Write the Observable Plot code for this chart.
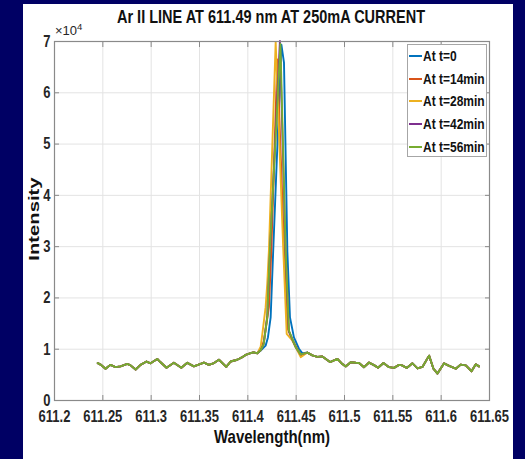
<!DOCTYPE html>
<html>
<head>
<meta charset="utf-8">
<script src="https://cdn.jsdelivr.net/npm/d3@7"></script>
<script src="https://cdn.jsdelivr.net/npm/@observablehq/plot@0.6"></script>
<style>
  html, body { margin: 0; padding: 0; }
  body { width: 525px; height: 459px; background: #000064; position: relative; overflow: hidden; font-family: "Liberation Sans", Arial, sans-serif; }
  #panel { position: absolute; left: 23px; top: 4px; width: 490px; height: 455px; background: #ffffff; }
  #chart { position: absolute; left: 0; top: 0; }
  #title { position: absolute; left: 0; width: 542px; top: 7px; line-height: 20px; text-align: center; font-weight: bold; font-size: 14.5px; color: #111; transform: scaleY(1.28); transform-origin: 50% 50%; }
  #exp { position: absolute; left: 55px; top: 21px; font-size: 13px; color: #262626; }
  #exp sup { font-size: 9.5px; }
  #ylabel { position: absolute; left: 33px; top: 219px; transform: translate(-50%, -50%) rotate(-90deg) scaleX(1.35); font-weight: bold; font-size: 15px; color: #111; white-space: nowrap; }
  #legend { position: absolute; left: 407px; top: 44px; width: 80px; height: 113px; background: #fff; border: 1px solid #a6a6a6; box-sizing: border-box; padding-top: 0px; }
  .item { display: flex; align-items: center; height: 22.6px; font-weight: bold; font-size: 12px; color: #111; white-space: nowrap; }
  .item span.tx { display: inline-block; transform: scaleY(1.25); }
  .swatch { width: 13px; height: 2px; margin-left: 1px; margin-right: 1px; flex: none; }
  g[aria-label="x-axis label"] text { font-size: 15px; fill: #111; }
</style>
</head>
<body>
<div id="panel"></div>
<div id="chart"></div>
<div id="title">Ar II LINE AT 611.49 nm AT 250mA CURRENT</div>
<div id="exp">×10<sup>4</sup></div>
<div id="ylabel">Intensity</div>
<div id="legend"></div>
<script>
// ---- data ----
const series = ["At t=0", "At t=14min", "At t=28min", "At t=42min", "At t=56min"];
const colors = ["#0072BD", "#D95319", "#EDB120", "#7E2F8E", "#77AC30"];

// shared baseline, left of the line
const baseLeftNm = [611.2448, 611.2476, 611.2528, 611.2580, 611.2631, 611.2683, 611.2753, 611.2787, 611.2839, 611.2890,
  611.2952, 611.2994, 611.3063, 611.3097, 611.3159, 611.3235, 611.3312, 611.3374, 611.3442, 611.3546,
  611.3597, 611.3650, 611.3701, 611.3777, 611.3822, 611.3891, 611.3943, 611.3977, 611.4029, 611.4063, 611.4098];
const baseLeftI = [7300, 7000, 6200, 6950, 6500, 6650, 7150, 6850, 6050, 6950,
  7600, 7250, 8100, 7450, 6400, 7350, 6400, 7350, 6650, 7400,
  6950, 7300, 7950, 6550, 7600, 7950, 8450, 8900, 9250, 9400, 9200];

// shared baseline, right of the line
const baseRightNm = [611.4616, 611.4668, 611.4719, 611.4771, 611.4850, 611.4927, 611.4978, 611.5012, 611.5064, 611.5116,
  611.5150, 611.5202, 611.5254, 611.5305, 611.5347, 611.5403, 611.5461, 611.5512, 611.5564, 611.5595,
  611.5644, 611.5703, 611.5755, 611.5806, 611.5875, 611.5920, 611.5962, 611.6030, 611.6082, 611.6151,
  611.6203, 611.6255, 611.6314, 611.6358, 611.6392];
const baseRightI = [9350, 8800, 8500, 8600, 7500, 8100, 7100, 6650, 7450, 7350,
  7300, 6500, 7400, 6900, 6400, 7300, 6500, 6350, 6950, 6850,
  6350, 7250, 6250, 6550, 8750, 6200, 5250, 7250, 6750, 6200,
  7000, 6850, 5700, 7050, 6650];

// peak region, one per series
const peakT0Nm  = [611.4133, 611.4184, 611.4208, 611.4236, 611.4262, 611.4347, 611.4374, 611.4409, 611.4436, 611.4477, 611.4529, 611.4565];
const peakT0I   = [9750, 10700, 12300, 16200, 29000, 69400, 65900, 29000, 16200, 12300, 10100, 9200];
const peakT14Nm = [611.4133, 611.4167, 611.4218, 611.4243, 611.4305, 611.4375, 611.4412, 611.4469, 611.4547];
const peakT14I  = [9900, 11700, 18200, 29250, 66500, 29250, 14000, 11500, 8800];
const peakT28Nm = [611.4133, 611.4150, 611.4184, 611.4201, 611.4218, 611.4288, 611.4367, 611.4402, 611.4460, 611.4547];
const peakT28I  = [10500, 13000, 18200, 22800, 29250, 69900, 29250, 13000, 11700, 8450];
const peakT42Nm = [611.4133, 611.4164, 611.4201, 611.4230, 611.4332, 611.4390, 611.4425, 611.4495, 611.4547];
const peakT42I  = [9800, 11000, 16500, 29250, 70100, 29250, 13500, 10400, 9000];
const peakT56Nm = [611.4133, 611.4164, 611.4201, 611.4228, 611.4337, 611.4391, 611.4425, 611.4495, 611.4547];
const peakT56I  = [9800, 11000, 16200, 29250, 69500, 29250, 13650, 10400, 9000];

const xTicks = [611.2, 611.25, 611.3, 611.35, 611.4, 611.45, 611.5, 611.55, 611.6, 611.65];
const xTickLabels = ["611.2", "611.25", "611.3", "611.35", "611.4", "611.45", "611.5", "611.55", "611.6", "611.65"];
const yTicks = [0, 10000, 20000, 30000, 40000, 50000, 60000, 70000];
const yTickLabels = ["0", "1", "2", "3", "4", "5", "6", "7"];

// ---- assemble table ----
const peaks = [[peakT0Nm, peakT0I], [peakT14Nm, peakT14I], [peakT28Nm, peakT28I], [peakT42Nm, peakT42I], [peakT56Nm, peakT56I]];
const rows = [];
series.forEach((s, i) => {
  const [pn, pi] = peaks[i];
  baseLeftNm.forEach((w, j) => rows.push({series: s, nm: w, I: baseLeftI[j]}));
  pn.forEach((w, j) => rows.push({series: s, nm: w, I: pi[j]}));
  baseRightNm.forEach((w, j) => rows.push({series: s, nm: w, I: baseRightI[j]}));
});

const chart = Plot.plot({
  width: 525,
  height: 459,
  marginLeft: 54,
  marginRight: 36,
  marginTop: 41,
  marginBottom: 59,
  style: {background: "transparent", fontFamily: "'Liberation Sans', Arial, sans-serif", fontSize: "13px", fontWeight: "bold", color: "#262626"},
  x: {domain: [611.2, 611.65]},
  y: {domain: [0, 70000]},
  color: {domain: series, range: colors},
  marks: [
    Plot.gridX(xTicks, {stroke: "#e3e3e3", strokeOpacity: 1}),
    Plot.gridY(yTicks, {stroke: "#e3e3e3", strokeOpacity: 1}),
    Plot.line(rows, {x: "nm", y: "I", z: "series", stroke: "series", strokeWidth: 1.9, curve: "linear"}),
    Plot.frame({stroke: "#8a8a8a", strokeWidth: 1.2}),
    Plot.axisX({ticks: xTicks, anchor: "bottom", tickSize: -5, tickPadding: 14, stroke: "#8a8a8a", fontSize: 13,
      tickFormat: (d) => xTickLabels[xTicks.indexOf(d)], label: "Wavelength(nm)", labelAnchor: "center", labelArrow: "none", labelOffset: 42}),
    Plot.axisX({ticks: xTicks, anchor: "top", tickSize: -5, tickFormat: () => "", label: null, stroke: "#8a8a8a"}),
    Plot.axisY({ticks: yTicks, anchor: "left", tickSize: -5, tickPadding: 9, stroke: "#8a8a8a", fontSize: 13,
      tickFormat: (d) => yTickLabels[yTicks.indexOf(d)], label: null}),
    Plot.axisY({ticks: yTicks, anchor: "right", tickSize: -5, tickFormat: () => "", label: null, stroke: "#8a8a8a"})
  ]
});
document.getElementById("chart").appendChild(chart);

// stretch the axis texts vertically, as in the reference image
function stretch(selector, s) {
  chart.querySelectorAll(selector).forEach((t) => {
    let tr = t.getAttribute("transform");
    if (!tr) {
      const x = t.getAttribute("x") || 0, y = t.getAttribute("y") || 0;
      t.removeAttribute("x"); t.removeAttribute("y");
      tr = `translate(${x},${y})`;
    }
    t.setAttribute("transform", tr + ` scale(1,${s})`);
  });
}
stretch('g[aria-label="x-axis tick label"] text', 1.3);
stretch('g[aria-label="y-axis tick label"] text', 1.3);
stretch('g[aria-label="x-axis label"] text', 1.25);

// legend
const legend = document.getElementById("legend");
series.forEach((s, i) => {
  const item = document.createElement("div");
  item.className = "item";
  const sw = document.createElement("span");
  sw.className = "swatch";
  sw.style.background = colors[i];
  const tx = document.createElement("span");
  tx.className = "tx";
  tx.textContent = s;
  item.appendChild(sw);
  item.appendChild(tx);
  legend.appendChild(item);
});
</script>
</body>
</html>
